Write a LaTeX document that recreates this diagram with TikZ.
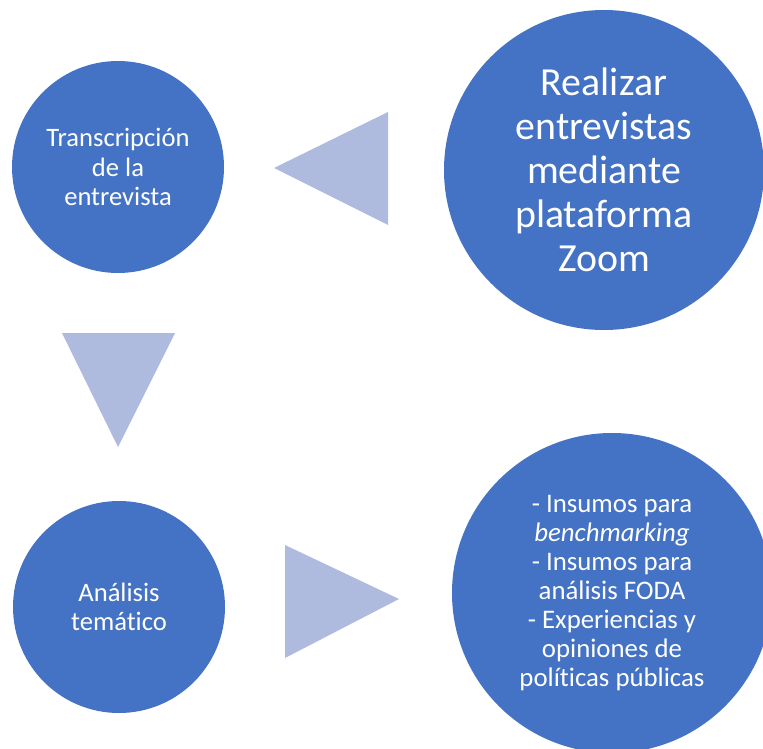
\documentclass[tikz,border=0pt]{standalone}
\usepackage{fontspec}
\setmainfont{Carlito}[Ligatures={NoCommon}]
\definecolor{circblue}{RGB}{68,114,196}
\definecolor{arrowblue}{RGB}{174,187,222}
\begin{document}
\begin{tikzpicture}[x=1pt,y=-1pt,
  stepcircle/.style={circle, fill=circblue, draw=none, inner sep=0pt, text=white, align=center},
  smalltext/.style={font=\fontsize{26.6}{29.6}\selectfont},
  listtext/.style={font=\fontsize{26.8}{29}\selectfont},
  bigtext/.style={font=\fontsize{39.8}{44}\selectfont},
  arrowtri/.style={fill=arrowblue, draw=none}]
\useasboundingbox (0,0) rectangle (763,749);
\clip (0,0) rectangle (763,749);
\node[stepcircle, smalltext, minimum size=212pt] (c1) at (118,167) {Transcripción\\de la\\entrevista};
\node[stepcircle, bigtext, minimum size=320pt] (c2) at (604,170) {Realizar\\entrevistas\\mediante\\plataforma\\Zoom};
\node[stepcircle, smalltext, minimum size=212pt] (c3) at (119,607) {Análisis\\temático};
\node[stepcircle, listtext, minimum size=320pt] (c4) at (612,593) {- Insumos para\\\textit{benchmarking}\\- Insumos para\\análisis FODA\\- Experiencias y\\opiniones de\\políticas públicas};
\fill[arrowtri] (274,168) -- (388,112) -- (388,225) -- cycle;
\fill[arrowtri] (62,333) -- (175,333) -- (118,447) -- cycle;
\fill[arrowtri] (285,545) -- (399,599) -- (285,658) -- cycle;
\end{tikzpicture}
\end{document}
